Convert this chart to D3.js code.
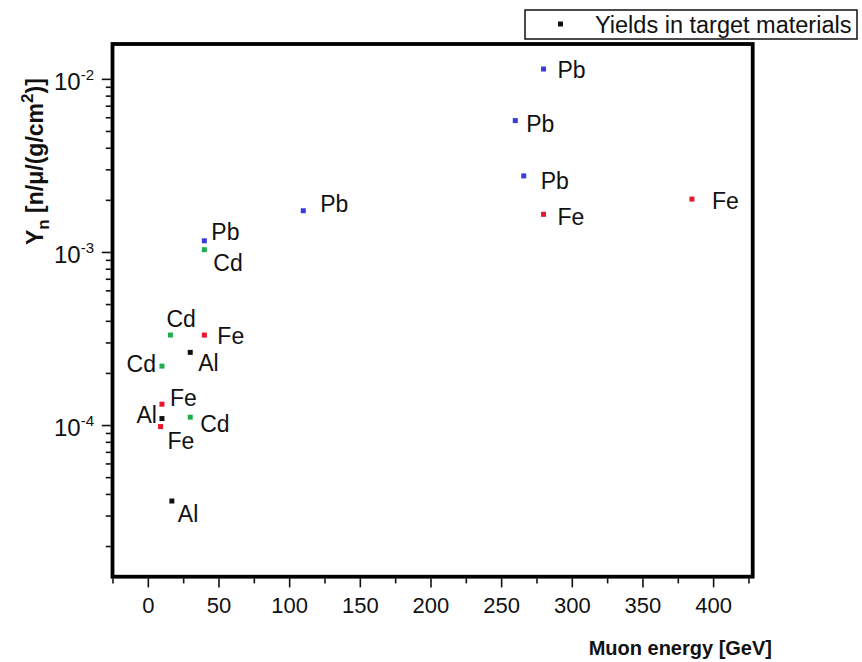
<!DOCTYPE html>
<html><head><meta charset="utf-8">
<script src="https://cdn.jsdelivr.net/npm/d3@7"></script>
<style>body{margin:0;background:#fff} text{font-family:"Liberation Sans",Arial,sans-serif;fill:#111}</style>
</head><body><svg id="c" width="862" height="662"></svg>
<script>
// ---- data ----
const materials = ["Pb","Pb","Pb","Fe","Fe","Pb","Pb","Cd","Cd","Fe","Al","Cd","Fe","Al","Cd","Fe","Al"];
const energies  = [280, 260, 266, 280, 385, 110, 40, 40, 16, 40, 30, 10, 10, 10, 30, 9, 17];
const yields    = [1.14e-2, 5.74e-3, 2.75e-3, 1.65e-3, 2.02e-3, 1.73e-3, 1.16e-3, 1.03e-3,
                   3.31e-4, 3.31e-4, 2.63e-4, 2.19e-4, 1.32e-4, 1.09e-4, 1.11e-4, 9.8e-5, 3.64e-5];
const xTickValues = [0, 50, 100, 150, 200, 250, 300, 350, 400];
const yTickExponents = [-2, -3, -4];
const legendLabel = "Yields in target materials";
const xTitle = "Muon energy [GeV]";

// ---- layout / style (not data) ----
const labelPlacement = [ // [dx, dy, anchor]
  [14,9,"start"],[11,11,"start"],[17,13,"start"],[14,11,"start"],[20,10,"start"],
  [17,1,"start"],[7,-1,"start"],[9,21,"start"],[-4,-8,"start"],[13,9,"start"],
  [8,19,"start"],[-6,6,"end"],[8,2,"start"],[-5,4,"end"],[10,15,"start"],
  [7,22,"start"],[6,21,"start"]
];
const colorOf = {Pb:"#3b3bd8", Fe:"#e8182a", Cd:"#1fae4f", Al:"#111111"};

const svg = d3.select("#c");
const L = 112.5, R = 752.7, T = 44, B = 576.7;
const x = d3.scaleLinear().domain([-25, 428]).range([L, R]);
const y = d3.scaleLog().domain([1.33e-5, 1.59e-2]).range([B, T]);

// minor ticks
const xMinor = d3.range(-25, 428, 50);
const yMinor = [];
for (let e = -5; e <= -2; e++) for (let m = 2; m <= 9; m++) {
  const v = m * Math.pow(10, e);
  if (v >= y.domain()[0] && v <= y.domain()[1]) yMinor.push(v);
}

function styleAxis(g){ g.select(".domain").remove(); g.selectAll("line").attr("stroke","#111").attr("stroke-width",1.6); }

svg.append("g").attr("transform",`translate(0,${B+1.7})`)
  .call(d3.axisBottom(x).tickValues(xMinor).tickSize(5).tickFormat(""))
  .call(styleAxis);
const xa = svg.append("g").attr("transform",`translate(0,${B+1.7})`)
  .call(d3.axisBottom(x).tickValues(xTickValues).tickSize(9).tickPadding(10).tickSizeOuter(0))
  .call(styleAxis);
xa.selectAll("text").style("font-size","22px").attr("fill","#111").style("font-family","'Liberation Sans',Arial,sans-serif");

svg.append("g").attr("transform",`translate(${L-1.7},0)`)
  .call(d3.axisLeft(y).tickValues(yMinor).tickSize(5).tickFormat(""))
  .call(styleAxis);
svg.append("g").attr("transform",`translate(${L-1.7},0)`)
  .call(d3.axisLeft(y).tickValues(yTickExponents.map(e=>Math.pow(10,e))).tickSize(9).tickFormat(""))
  .call(styleAxis);

const yl = svg.append("g").selectAll("text").data(yTickExponents).join("text")
  .attr("x", 54).attr("y", e => y(Math.pow(10,e)) + 11)
  .style("font-size","24px");
yl.append("tspan").text("10");
yl.append("tspan").attr("dy",-10).style("font-size","15px").text(e => "-" + Math.abs(e));

// frame
svg.append("rect").attr("x",L).attr("y",T).attr("width",R-L).attr("height",B-T)
  .attr("fill","none").attr("stroke","#000").attr("stroke-width",3.8);

// points
const idx = d3.range(materials.length);
svg.append("g").selectAll("rect").data(idx).join("rect")
  .attr("x", i => x(energies[i]) - 2.5).attr("y", i => y(yields[i]) - 2.5)
  .attr("width",5).attr("height",5).attr("fill", i => colorOf[materials[i]]);
svg.append("g").selectAll("text").data(idx).join("text")
  .attr("x", i => x(energies[i]) + labelPlacement[i][0])
  .attr("y", i => y(yields[i]) + labelPlacement[i][1])
  .attr("text-anchor", i => labelPlacement[i][2])
  .style("font-size","23px").text(i => materials[i]);

// legend
svg.append("rect").attr("x",525).attr("y",10).attr("width",332).attr("height",29)
  .attr("fill","#fff").attr("stroke","#111").attr("stroke-width",1.5);
svg.append("rect").attr("x",558).attr("y",21.5).attr("width",5).attr("height",5).attr("fill","#111");
svg.append("text").attr("x",595).attr("y",33).style("font-size","23.5px").text(legendLabel);

// axis titles
svg.append("text").attr("x",772).attr("y",655).attr("text-anchor","end")
  .style("font-size","20px").style("font-weight","bold").text(xTitle);
const yt = svg.append("text").attr("transform","translate(43,245) rotate(-90)")
  .style("font-size","23px").style("font-weight","bold");
yt.append("tspan").text("Y");
yt.append("tspan").attr("dy",6).style("font-size","17px").text("n");
yt.append("tspan").attr("dy",-6).text(" [n/\u03BC/(g/cm");
yt.append("tspan").attr("dy",-10).style("font-size","17px").text("2");
yt.append("tspan").attr("dy",10).text(")]");
</script></body></html>
